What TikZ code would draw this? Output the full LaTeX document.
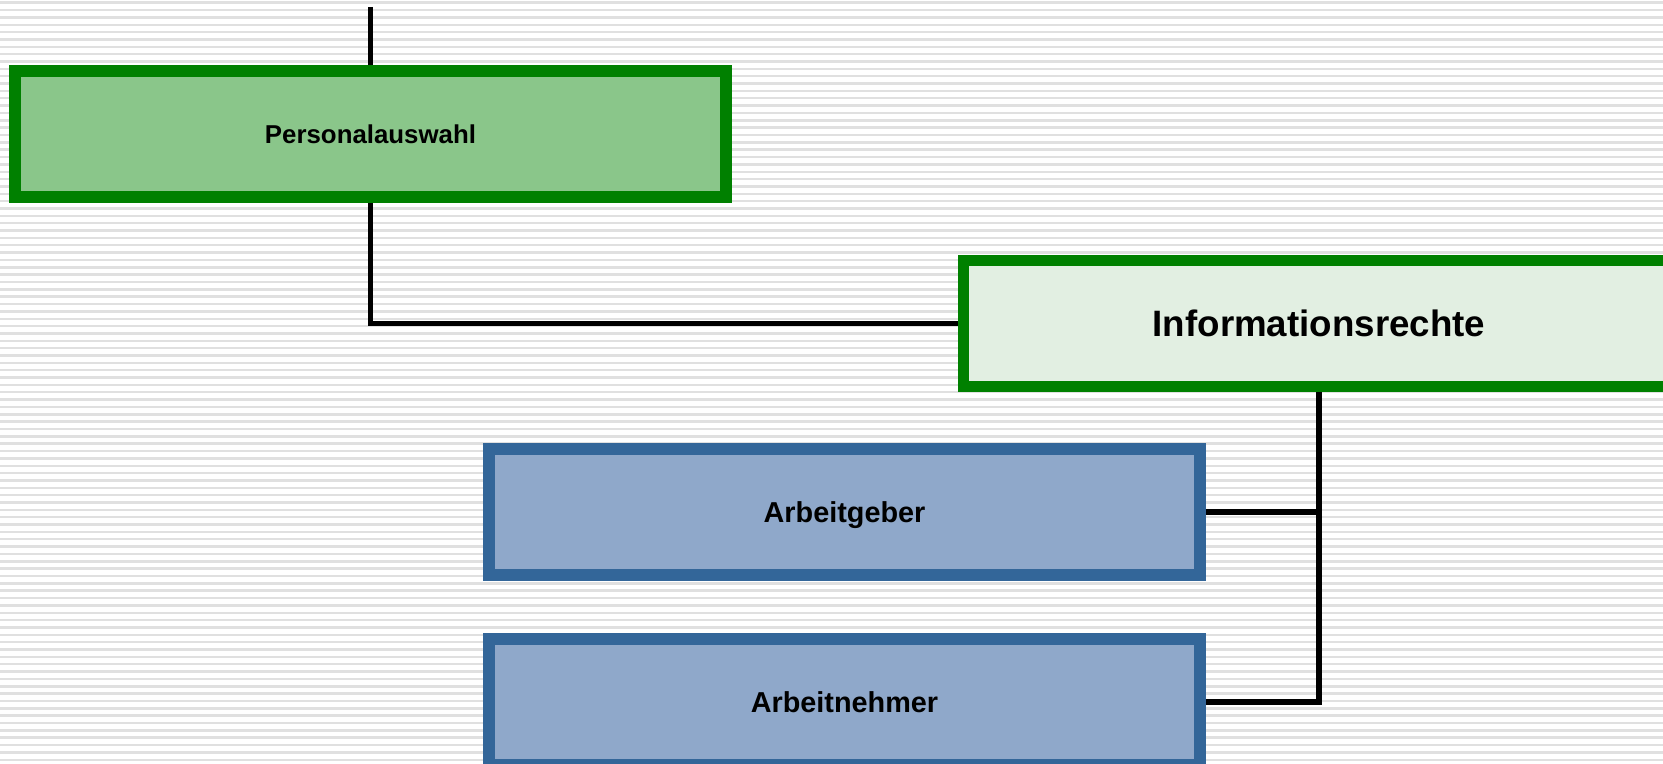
\documentclass[tikz,border=0pt]{standalone}
\usepackage{fontspec}
\setmainfont{Liberation Sans}
\definecolor{boxgreen}{RGB}{0,128,0}
\definecolor{fillgreen}{RGB}{138,198,138}
\definecolor{filllight}{RGB}{226,239,226}
\definecolor{boxblue}{RGB}{51,102,153}
\definecolor{fillblue}{RGB}{143,168,202}

\begin{document}
\begin{tikzpicture}[
  box/.style={draw,rectangle,line width=6.8pt,inner sep=0pt,text depth=0pt,
    minimum width=14.22cm,minimum height=2.52cm,font=\bfseries},
  greenbox/.style={box,draw=boxgreen,fill=fillgreen},
  lightbox/.style={box,draw=boxgreen,fill=filllight},
  bluebox/.style={box,draw=boxblue,fill=fillblue},
  link/.style={line width=3.4pt}]
\clip (0,0) rectangle (33.26,15.26);
\fill[white] (0,0) rectangle (33.26,15.26);
\foreach \k in {0,...,103}
  \draw[black!12,line width=1.4pt] (0,15.206-0.147*\k) -- (33.26,15.206-0.147*\k);
\node[greenbox] (pa) at (7.41,12.58) {\fontsize{14.7}{17}\selectfont Personalauswahl};
\node[lightbox] (ir) at (26.38,8.79) {\fontsize{20.9}{24}\selectfont Informationsrechte};
\node[bluebox] (ag) at (16.89,5.02) {\fontsize{16.4}{19}\selectfont Arbeitgeber};
\node[bluebox] (an) at (16.89,1.22) {\fontsize{16.4}{19}\selectfont Arbeitnehmer};
\coordinate (top) at (7.41,15.12);
\draw[link] (top) -- (pa.north);
\draw[link] (pa.south) |- (ir.west);
\draw[link] (ir.south) |- (an.east);
\draw[link] (ag.east) -| (ir.south);
\end{tikzpicture}
\end{document}
